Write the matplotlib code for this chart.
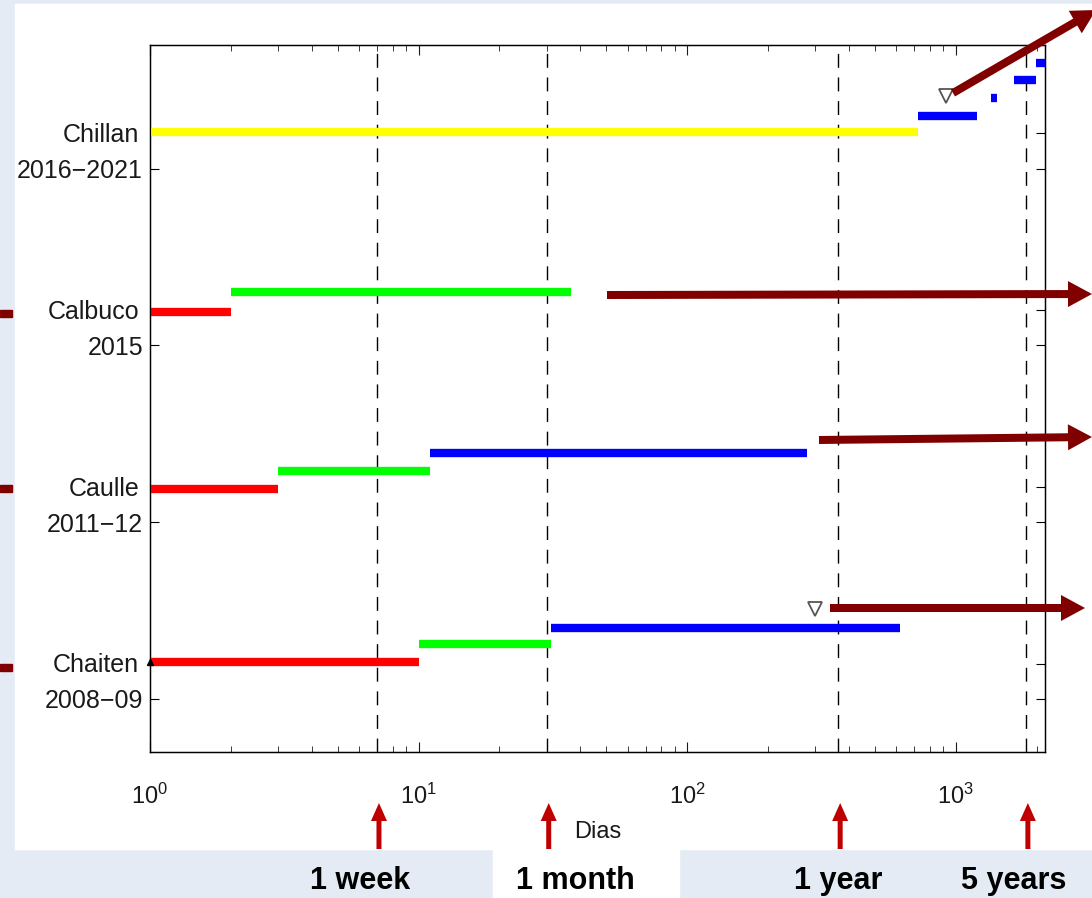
import matplotlib
matplotlib.use("Agg")
import matplotlib.pyplot as plt
from matplotlib.patches import Rectangle, FancyArrow

plt.rcParams["font.family"] = ["Liberation Sans", "DejaVu Sans"]
plt.rcParams["mathtext.default"] = "regular"

# eruptions (y position = tick value), with names and years
volcanoes = ["Chaiten", "Caulle", "Calbuco", "Chillan"]
years = ["2008\u221209", "2011\u221212", "2015", "2016\u22122021"]
y_base = [1, 2, 3, 4]

# phase segments: start day, end day, y level, colour
seg_start = [1, 10, 31, 1, 3, 11, 1, 2, 1, 725, 1355, 1650, 1995]
seg_end = [10, 31, 620, 3, 11, 280, 2, 37, 725, 1200, 1425, 1995, 2150]
seg_y = [1.21, 1.31, 1.40, 2.19, 2.29, 2.39, 3.19, 3.30, 4.21, 4.30, 4.40, 4.50, 4.60]
seg_col = ["#ff0000", "#00ff00", "#0000ff", "#ff0000", "#00ff00", "#0000ff",
           "#ff0000", "#00ff00", "#ffff00", "#0000ff", "#0000ff", "#0000ff", "#0000ff"]

# open triangles
tri_x = [300, 922]
tri_y = [1.51, 4.41]

# reference times in days
ref_days = [7, 30, 365, 1825]
ref_names = ["1 week", "1 month", "1 year", "5 years"]

W, H = 1092, 898
fig = plt.figure(figsize=(W / 100, H / 100), dpi=100)
fig.patch.set_facecolor("#e5ebf5")


def fx(px):
    return px / W


def fy(py):
    return 1 - py / H


# white slide panels
fig.add_artist(Rectangle((fx(15), fy(849)), fx(W - 15), 845 / H,
                         transform=fig.transFigure, color="white", zorder=0))
fig.add_artist(Rectangle((fx(493), 0), fx(186), 49 / H,
                         transform=fig.transFigure, color="white", zorder=0))

ax = fig.add_axes([fx(150), fy(752), fx(895), 707 / H])
ax.set_xscale("log")
ax.set_xlim(1, 2150)
ax.set_ylim(0.7, 4.7)

for x0, x1, y, c in zip(seg_start, seg_end, seg_y, seg_col):
    ax.plot([x0, x1], [y, y], color=c, lw=6, solid_capstyle="butt", zorder=3)

ax.plot(tri_x, tri_y, "v", ms=10.5, mfc="white", mec="#555555", mew=1.3, ls="none", zorder=4)
ax.plot([1], [seg_y[0]], "^", ms=5, color="black", clip_on=False, zorder=5)

for d in ref_days:
    ax.axvline(d, color="black", lw=1, dashes=(10, 7), zorder=2)

ax.set_yticks(y_base)
ax.set_yticklabels(years, fontsize=18, color="#1a1a1a")
for y, name in zip(y_base, volcanoes):
    ax.text(-0.012, y + 0.19, name, transform=ax.get_yaxis_transform(),
            ha="right", va="center", fontsize=18, color="#1a1a1a")

ax.tick_params(axis="x", which="both", direction="in", top=True, labelsize=17,
               pad=23, colors="#1a1a1a")
ax.tick_params(axis="x", which="major", length=7)
ax.tick_params(axis="x", which="minor", length=4)
ax.tick_params(axis="y", direction="in", length=6.5, pad=5)
ax.set_xlabel("Dias", fontsize=17, color="#1a1a1a")
ax.xaxis.set_label_coords(0.5, -0.097)
for s in ax.spines.values():
    s.set_linewidth(1)

ax2 = ax.twinx()
ax2.set_ylim(ax.get_ylim())
ax2.set_yticks([1, 1.2, 2, 2.2, 3, 3.2, 4, 4.2])
ax2.tick_params(direction="in", length=6.5, labelright=False)

inch = fig.dpi_scale_trans
maroon = "#800000"


def slide_arrow(x0, y0, x1, y1, width=8, head_w=26, head_l=24):
    fig.add_artist(FancyArrow(x0 / 100, (H - y0) / 100, (x1 - x0) / 100, (y0 - y1) / 100,
                              width=width / 100, head_width=head_w / 100,
                              head_length=head_l / 100, length_includes_head=True,
                              transform=inch, color=maroon, lw=0, zorder=10))


slide_arrow(953, 93, 1096, 10)
slide_arrow(607, 295, 1092, 294)
slide_arrow(819, 440, 1092, 437)
slide_arrow(830, 608, 1085, 608)
for py in [313, 488, 667]:
    fig.add_artist(Rectangle((0, fy(py + 4)), fx(12), 7 / H,
                             transform=fig.transFigure, color=maroon, zorder=10))

# red arrows pointing at the reference times
for d in ref_days:
    xd = ax.transData.transform((d, 1))[0] + 2
    fig.add_artist(FancyArrow(xd / 100, (H - 849) / 100, 0, 46 / 100,
                              width=5 / 100, head_width=16 / 100, head_length=18 / 100,
                              length_includes_head=True, transform=inch,
                              color="#c00000", lw=0, zorder=10))

label_x = [360, 575, 838, 1014]
for px, name in zip(label_x, ref_names):
    fig.text(fx(px), fy(881), name, ha="center", va="center", fontsize=22,
             fontweight="bold", color="black")

fig.savefig("out.png", dpi=100, facecolor=fig.get_facecolor())
